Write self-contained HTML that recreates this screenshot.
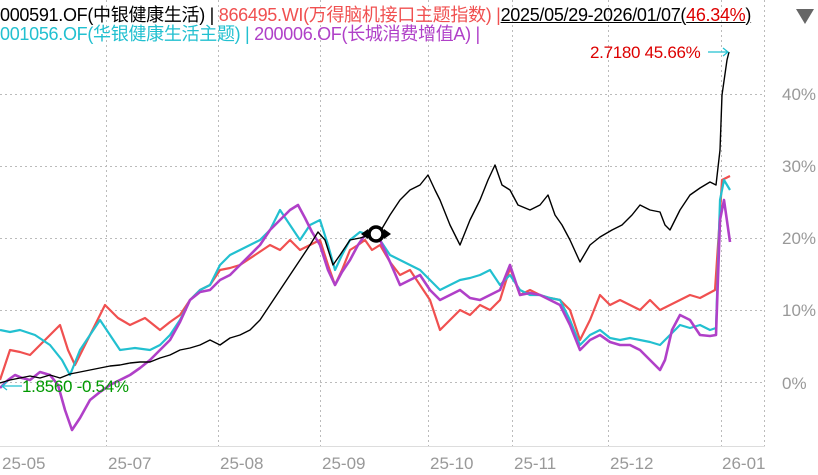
<!DOCTYPE html>
<html><head><meta charset="utf-8"><style>
html,body{margin:0;padding:0;background:#fff;}
body{width:818px;height:475px;overflow:hidden;position:relative;font-family:"Liberation Sans","Noto Sans CJK SC",sans-serif;}
.t{position:absolute;font-size:18px;white-space:nowrap;line-height:20px;letter-spacing:-0.3px;}
</style></head><body>
<svg width="818" height="475" style="position:absolute;left:0;top:0">
<g stroke="#bbb" stroke-width="1" stroke-dasharray="2,3">
<line x1="0" y1="94.5" x2="765" y2="94.5"/><line x1="0" y1="166.5" x2="765" y2="166.5"/>
<line x1="0" y1="238.5" x2="765" y2="238.5"/><line x1="0" y1="310.5" x2="765" y2="310.5"/>
<line x1="0" y1="382.5" x2="765" y2="382.5"/>
<line x1="106.5" y1="0" x2="106.5" y2="446"/><line x1="218.5" y1="0" x2="218.5" y2="446"/>
<line x1="320.5" y1="0" x2="320.5" y2="446"/><line x1="428.5" y1="0" x2="428.5" y2="446"/>
<line x1="512.5" y1="0" x2="512.5" y2="446"/><line x1="608.5" y1="0" x2="608.5" y2="446"/>
<line x1="721.5" y1="0" x2="721.5" y2="446"/><line x1="764.5" y1="0" x2="764.5" y2="446"/>
</g>
<line x1="0" y1="446.5" x2="765" y2="446.5" stroke="#ddd"/>
<g font-size="17" fill="#999" font-family="Liberation Sans,sans-serif">
<text x="782" y="100">40%</text><text x="782" y="172">30%</text><text x="782" y="244">20%</text><text x="782" y="316">10%</text><text x="782" y="389">0%</text>
<text x="2" y="469">25-05</text><text x="108" y="469">25-07</text><text x="220" y="469">25-08</text><text x="322" y="469">25-09</text>
<text x="430" y="469">25-10</text><text x="514" y="469">25-11</text><text x="610" y="469">25-12</text><text x="722" y="469">26-01</text>
</g>
<g fill="none" stroke-linejoin="round">
<polyline stroke="#f05050" stroke-width="2.2" points="0,380 10,350 20,352 30,355 45,340 60,325 68,350 75,365 90,335 105,305 118,318 130,325 145,318 160,330 170,322 180,315 190,300 200,290 210,285 220,270 230,268 240,265 255,255 270,245 280,250 290,240 300,250 310,245 320,240 328,265 335,285 342,270 350,250 358,245 365,240 372,250 380,245 390,262 400,275 410,270 420,285 430,300 440,330 450,320 460,310 470,315 480,305 490,310 500,300 510,268 520,295 530,290 540,295 550,298 560,300 570,310 580,340 590,320 600,295 610,305 620,300 630,305 640,310 650,300 660,310 670,305 680,300 690,295 700,298 715,290 719,230 722,180 730,176"/>
<polyline stroke="#22c0d0" stroke-width="2.2" points="0,330 10,332 20,330 35,335 50,345 62,360 70,375 80,350 90,335 100,320 110,335 120,350 135,348 150,350 160,345 170,335 180,320 190,300 200,290 210,285 220,265 230,255 240,250 250,245 260,240 270,230 280,210 290,225 300,240 310,225 320,220 328,245 335,270 342,255 350,240 360,232 370,235 380,240 390,255 400,260 410,265 420,270 430,280 440,290 450,285 460,280 470,278 480,275 490,270 500,285 510,275 520,290 530,295 540,295 550,298 560,300 570,320 580,345 590,335 600,330 610,338 620,340 630,338 640,340 650,342 660,345 670,335 680,325 690,328 700,325 710,330 716,328 720,200 724,180 730,190"/>
<polyline stroke="#b040c8" stroke-width="2.6" points="0,388 8,380 15,375 22,378 30,380 40,372 50,375 58,385 65,410 72,430 80,418 90,400 100,392 110,385 120,380 130,375 140,368 150,360 160,350 170,340 180,322 190,300 200,292 210,290 220,280 230,275 240,265 250,255 260,245 270,230 280,220 290,210 298,205 305,218 312,232 320,245 328,270 335,285 342,272 350,260 358,245 365,235 372,238 380,240 390,262 400,285 410,280 420,275 430,290 440,300 450,295 460,290 470,298 480,300 490,295 500,290 510,265 520,295 530,293 540,295 550,300 560,305 570,325 580,350 590,340 600,335 610,342 620,345 630,345 640,350 650,360 660,370 665,360 672,330 680,315 690,320 700,335 710,336 716,335 720,220 724,200 730,242"/>
<polyline stroke="#000" stroke-width="1.4" points="0,383 10,380 20,378 30,376 40,378 50,375 60,378 70,374 80,372 90,370 100,368 110,366 120,365 130,363 140,362 150,362 160,358 170,355 180,350 190,348 200,345 210,340 220,345 230,338 240,335 250,330 260,320 270,305 280,290 290,275 300,260 310,245 318,232 325,240 333,265 340,255 350,240 360,238 370,235 380,232 390,215 400,200 410,190 420,185 428,175 435,190 440,200 450,225 460,245 470,220 480,200 488,180 495,165 502,185 510,190 518,205 530,210 540,205 548,195 555,215 562,225 570,240 580,262 590,245 600,237 612,230 622,225 632,215 640,205 650,210 660,212 665,225 670,230 680,210 690,195 700,188 710,182 716,185 720,150 722,95 727,60 729,52"/>
</g>
<line x1="708" y1="52" x2="728" y2="52" stroke="#22c0d0" stroke-width="1.3"/>
<polyline points="723,48 728,52 723,56" fill="none" stroke="#22c0d0" stroke-width="1.3"/>
<line x1="2" y1="386" x2="22" y2="386" stroke="#22c0d0" stroke-width="1.3"/>
<polyline points="7,382 2,386 7,390" fill="none" stroke="#22c0d0" stroke-width="1.3"/>
<polygon points="361,234 368,229 368,239" fill="#000"/>
<polygon points="391,234 384,229 384,239" fill="#000"/>
<circle cx="376" cy="234" r="7" fill="#fff" stroke="#000" stroke-width="3.5"/>
<polygon points="796,9 814,9 805,24" fill="#666"/>
</svg>
<div class="t" style="left:0;top:5px;color:#000">000591.OF(中银健康生活) | <span style="color:#f05050">866495.WI(万得脑机接口主题指数) |</span><span style="text-decoration:underline;color:#000">2025/05/29-2026/01/07(<span style="color:#d00">46.34%</span>)</span></div>
<div class="t" style="left:0;top:24px;color:#22c0d0">001056.OF(华银健康生活主题) | <span style="color:#b040c8">200006.OF(长城消费增值A) |</span></div>
<div class="t" style="left:590px;top:43px;color:#d00;font-size:17px">2.7180 45.66%</div>
<div class="t" style="left:22px;top:377px;color:#090;font-size:17px">1.8560 -0.54%</div>
</body></html>
